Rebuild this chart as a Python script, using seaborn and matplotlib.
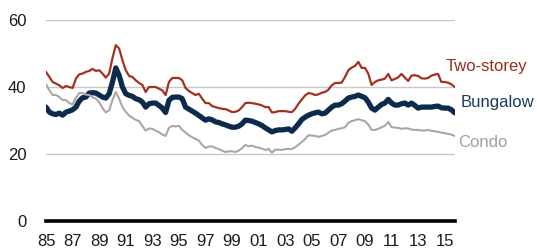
import matplotlib
matplotlib.use('Agg')
import matplotlib.pyplot as plt
import numpy as np
import pandas as pd
import seaborn as sns

# quarterly readings, 1985Q1 .. 2015Q4
two_storey = [
    44.5, 43.0, 41.5, 41.0, 40.5, 39.7, 40.3, 40.0,
    39.7, 42.5, 43.8, 44.0, 44.5, 44.8, 45.4, 44.8,
    45.0, 44.0, 42.8, 44.0, 48.6, 52.5, 51.5, 48.0,
    45.0, 43.3, 43.0, 42.0, 41.2, 40.6, 38.5, 40.0,
    40.0, 40.0, 39.5, 39.0, 37.6, 41.5, 42.7, 42.7,
    42.7, 42.0, 39.7, 38.8, 38.2, 37.6, 38.0, 36.5,
    35.2, 35.2, 34.3, 34.0, 33.7, 33.5, 33.4, 33.0,
    32.5, 32.6, 33.0, 34.0, 35.2, 35.3, 35.2, 35.0,
    34.8, 34.5, 34.0, 34.0, 32.4, 32.5, 32.8, 32.8,
    32.8, 32.6, 32.5, 33.5, 35.0, 36.3, 37.5, 38.2,
    38.0, 37.6, 37.8, 38.3, 38.5, 39.2, 40.5, 41.2,
    41.2, 41.3, 43.0, 45.0, 45.8, 46.3, 47.5, 45.7,
    45.7, 44.0, 40.6, 41.5, 42.0, 42.2, 42.5, 43.9,
    42.0, 42.4, 42.9, 43.9, 42.8, 41.8, 43.4, 43.5,
    43.3, 42.6, 42.5, 42.7, 43.4, 43.7, 43.9, 41.5,
    41.5, 41.3, 40.8, 40.0,
]
bungalow = [
    34.0, 32.5, 32.0, 31.8, 32.2, 31.6, 32.5, 32.8,
    33.2, 34.0, 35.8, 36.8, 37.0, 38.2, 38.3, 38.2,
    37.6, 37.0, 36.7, 38.0, 41.5, 45.7, 43.5, 40.0,
    38.0, 37.5, 37.2, 36.5, 36.2, 35.5, 34.0, 35.0,
    35.2, 35.2, 34.5, 33.7, 32.4, 36.0, 36.9, 37.0,
    37.0, 36.5, 34.0, 33.4, 32.8, 32.2, 31.5, 30.8,
    30.1, 30.5, 30.2, 29.6, 29.4, 29.0, 28.7, 28.3,
    28.0, 28.0, 28.3, 29.0, 30.1, 30.0, 29.8, 29.4,
    29.0, 28.5, 27.8, 27.2, 26.6, 27.0, 27.2, 27.2,
    27.3, 27.5, 26.8, 27.8, 29.0, 30.3, 31.0, 31.6,
    32.0, 32.3, 32.5, 32.0, 32.2, 33.1, 34.0, 34.6,
    34.6, 35.0, 35.8, 36.7, 37.0, 37.2, 37.6, 37.2,
    36.8, 35.5, 33.7, 33.1, 34.0, 34.8, 35.2, 36.3,
    35.2, 34.6, 34.6, 35.0, 35.2, 34.6, 35.2, 34.5,
    33.7, 34.0, 34.0, 34.0, 34.0, 34.2, 34.3, 33.8,
    33.7, 33.7, 33.2, 32.3,
]
condo = [
    40.8, 39.0, 37.6, 37.6, 37.0, 36.1, 36.1, 35.2,
    34.8, 36.8, 38.2, 38.2, 37.7, 37.6, 37.0, 36.5,
    35.5, 33.7, 32.4, 33.0, 36.1, 38.5, 36.5, 34.0,
    32.6, 31.5, 30.8, 30.2, 29.8, 28.4, 27.0, 27.6,
    27.5, 27.0, 26.5, 25.8, 25.4, 27.8, 28.4, 28.2,
    28.4, 27.2, 26.4, 25.6, 25.0, 24.5, 24.0, 22.7,
    21.8, 22.2, 22.3, 21.8, 21.5, 21.0, 20.6, 20.8,
    20.8, 20.6, 21.0, 21.7, 22.7, 22.3, 22.5, 22.1,
    21.9, 21.6, 21.2, 21.5, 20.4, 21.3, 21.3, 21.2,
    21.5, 21.5, 21.5, 22.0, 22.8, 23.6, 24.5, 25.6,
    25.5, 25.4, 25.1, 25.4, 25.7, 26.4, 27.0, 27.2,
    27.5, 27.7, 28.0, 29.3, 29.8, 30.1, 30.4, 30.1,
    29.8, 28.8, 27.2, 27.2, 27.5, 28.0, 28.4, 29.6,
    28.0, 27.9, 27.8, 27.5, 27.7, 27.6, 27.3, 27.2,
    27.2, 27.0, 27.0, 27.2, 26.9, 26.8, 26.6, 26.4,
    26.2, 26.0, 25.8, 25.4,
]
quarters = 1985 + np.arange(len(two_storey)) / 4
year_ticks = list(range(1985, 2016, 2))
year_labels = [f'{y % 100:02d}' for y in year_ticks]

series = ['Two-storey', 'Bungalow', 'Condo']
colors = {'Two-storey': '#a2321f', 'Bungalow': '#0c2a4c', 'Condo': '#a8a8a8'}
widths = {'Two-storey': 1.6, 'Bungalow': 3.8, 'Condo': 1.5}

df = pd.concat([
    pd.DataFrame({'date': quarters, 'value': vals, 'type': name})
    for name, vals in zip(series, [two_storey, bungalow, condo])
])

sns.set_style('white')
plt.rcParams['font.family'] = ['Liberation Sans', 'DejaVu Sans']

fig = plt.figure(figsize=(5.37, 2.49), dpi=100)
ax = fig.add_axes([0.0857, 0.1124, 0.761, 0.8073])

for ax_grid in [20, 40, 60]:
    ax.axhline(ax_grid, color='#c8c8c8', lw=1.0, zorder=0)

for name in series:
    sns.lineplot(data=df[df['type'] == name], x='date', y='value', color=colors[name],
                 lw=widths[name], ax=ax, legend=False, errorbar=None)

ax.set_xlim(1985, 2015.75)
ax.set_ylim(0, 60)
ax.set_yticks([0, 20, 40, 60])
ax.set_xticks(year_ticks)
ax.set_xticklabels(year_labels)
ax.set_xlabel('')
ax.set_ylabel('')
ax.tick_params(axis='both', length=0, labelsize=12, colors='#1a1a1a')
ax.tick_params(axis='y', pad=14)
ax.tick_params(axis='x', pad=9)
for side in ['top', 'right', 'left']:
    ax.spines[side].set_visible(False)
ax.spines['bottom'].set_linewidth(2.6)
ax.spines['bottom'].set_color('black')

# series labels at the right end
ax.text(2015.1, 46.0, 'Two-storey', color='#9a2a1a', fontsize=12, va='center', clip_on=False)
ax.text(2016.2, 35.4, 'Bungalow', color='#1c3a60', fontsize=12, va='center', clip_on=False)
ax.text(2016.0, 23.5, 'Condo', color='#a0a0a0', fontsize=12, va='center', clip_on=False)

fig.savefig('out.png', dpi=100)
